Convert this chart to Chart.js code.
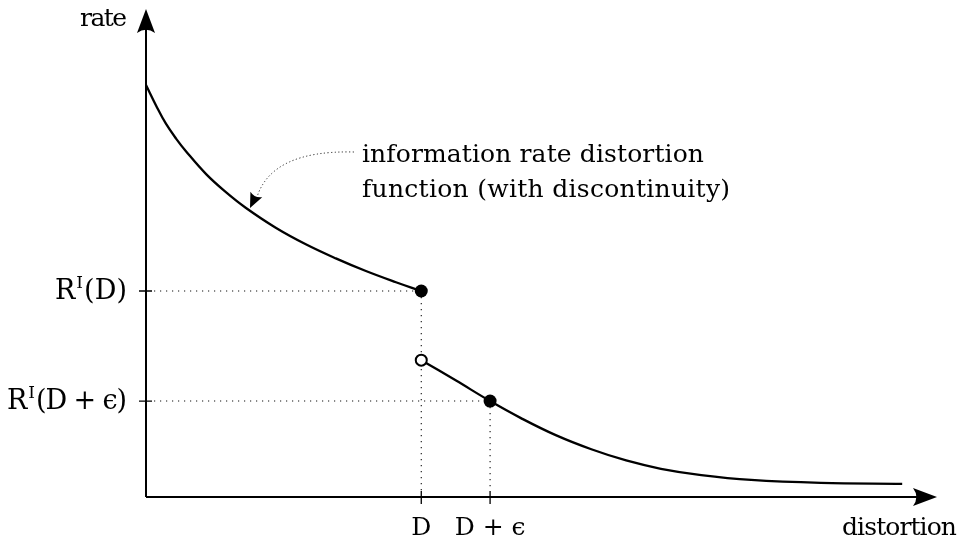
<!DOCTYPE html>
<html>
<head>
<meta charset="utf-8">
<script src="https://cdn.jsdelivr.net/npm/chart.js@4"></script>
<style>
html,body{margin:0;padding:0;background:#fff;}
#wrap{width:966px;height:538px;}
</style>
</head>
<body>
<div id="wrap"><canvas id="c" width="966" height="538"></canvas></div>
<script>
// ---- data ----
const upperX = [0, 0.13, 0.25, 0.38, 0.51, 0.76, 1.01, 1.26, 1.64, 2.02, 2.40, 2.78, 3.16, 3.48];
const upperY = [8.46, 8.03, 7.67, 7.36, 7.09, 6.63, 6.26, 5.94, 5.53, 5.19, 4.90, 4.64, 4.41, 4.23];
const lowerX = [3.48, 3.92, 4.35, 4.74, 5.18, 5.63, 6.07, 6.51, 7.02, 7.65, 8.53, 9.56];
const lowerY = [2.81, 2.39, 1.97, 1.62, 1.27, 0.98, 0.75, 0.58, 0.45, 0.35, 0.29, 0.27];
const filledX = [3.48, 4.35];
const filledY = [4.23, 1.97];
const openX = [3.48];
const openY = [2.81];
const xTickValues = [3.48, 4.35];
const xTickLabels = ['D', 'D + ϵ'];
const yTickValues = [4.23, 1.97];
const yTickLabels = [['R', 'I', '(D)'], ['R', 'I', '(D + ϵ)']];
const xAxisTitle = 'distortion';
const yAxisTitle = 'rate';
const noteLines = ['information rate distortion', 'function (with discontinuity)'];

const pts = (xs, ys) => xs.map((x, i) => ({x: x, y: ys[i]}));
const SERIF = '"DejaVu Serif", "Liberation Serif", serif';

function arrowHead(ctx, tx, ty, angle, len, half) {
  ctx.save();
  ctx.translate(tx, ty);
  ctx.rotate(angle);
  ctx.beginPath();
  ctx.moveTo(0, 0);
  ctx.lineTo(-len, -half);
  ctx.quadraticCurveTo(-len * 0.72, 0, -len, half);
  ctx.closePath();
  ctx.fillStyle = '#000';
  ctx.fill();
  ctx.restore();
}

function fitText(ctx, text, x, y, size, width, align) {
  ctx.save();
  ctx.font = size + 'px ' + SERIF;
  ctx.textAlign = 'left';
  const hasLS = ('letterSpacing' in ctx);
  if (hasLS) ctx.letterSpacing = '0px';
  const w = ctx.measureText(text).width;
  const left = align === 'right' ? x - width : (align === 'center' ? x - width / 2 : x);
  if (hasLS && text.length > 1) {
    ctx.letterSpacing = ((width - w) / (text.length - 1)).toFixed(2) + 'px';
  } else {
    ctx.font = (size * width / w).toFixed(1) + 'px ' + SERIF;
  }
  ctx.fillText(text, left, y);
  ctx.restore();
}

const deco = {
  id: 'deco',
  beforeDatasetsDraw(chart) {
    const ctx = chart.ctx;
    const xs = chart.scales.x, ys = chart.scales.y;
    const x0 = xs.getPixelForValue(0), y0 = ys.getPixelForValue(0);
    const ca = chart.chartArea;
    ctx.save();
    ctx.strokeStyle = '#111';
    ctx.lineWidth = 1.1;
    ctx.setLineDash([1.2, 4.8]);
    for (let i = 0; i < filledX.length; i++) {
      const px = xs.getPixelForValue(filledX[i]);
      const py = ys.getPixelForValue(filledY[i]);
      ctx.beginPath();
      ctx.moveTo(x0 + 8, py); ctx.lineTo(px, py);
      ctx.moveTo(px, py); ctx.lineTo(px, y0 - 6);
      ctx.stroke();
    }
    ctx.setLineDash([]);
    ctx.strokeStyle = '#000';
    ctx.lineWidth = 2;
    ctx.beginPath();
    ctx.moveTo(x0, y0); ctx.lineTo(x0, ca.top + 14);
    ctx.moveTo(x0, y0); ctx.lineTo(ca.right - 14, y0);
    ctx.stroke();
    arrowHead(ctx, x0, ca.top - 1, -Math.PI / 2, 24, 9);
    arrowHead(ctx, ca.right, y0, 0, 24, 9);
    ctx.lineWidth = 1.3;
    ctx.beginPath();
    yTickValues.forEach(v => { const py = ys.getPixelForValue(v); ctx.moveTo(x0 - 7, py); ctx.lineTo(x0 + 6, py); });
    xTickValues.forEach(v => { const px = xs.getPixelForValue(v); ctx.moveTo(px, y0 - 6); ctx.lineTo(px, y0 + 7); });
    ctx.stroke();
    ctx.restore();
  },
  afterDraw(chart) {
    const ctx = chart.ctx;
    const xs = chart.scales.x, ys = chart.scales.y;
    const x0 = xs.getPixelForValue(0), y0 = ys.getPixelForValue(0);
    const ca = chart.chartArea;
    ctx.save();
    ctx.fillStyle = '#000';
    ctx.textBaseline = 'alphabetic';
    fitText(ctx, yAxisTitle, x0 - 19, ca.top + 16, 25, 47, 'right');
    fitText(ctx, xAxisTitle, ca.right + 20, y0 + 38, 25, 115, 'right');
    ctx.font = '25px ' + SERIF;
    ctx.textAlign = 'center';
    xTickValues.forEach((v, i) => ctx.fillText(xTickLabels[i], xs.getPixelForValue(v), y0 + 38));
    const yLabelWidths = [72, 120];
    yTickValues.forEach((v, i) => {
      const py = ys.getPixelForValue(v) + 8;
      const parts = yTickLabels[i];
      const big = 27, small = 17;
      ctx.textAlign = 'left';
      ctx.font = big + 'px ' + SERIF;
      const wR = ctx.measureText(parts[0]).width;
      ctx.font = small + 'px ' + SERIF;
      const wI = ctx.measureText(parts[1]).width;
      const right = x0 - 19;
      const left = right - yLabelWidths[i];
      ctx.font = big + 'px ' + SERIF;
      ctx.fillText(parts[0], left, py);
      ctx.font = small + 'px ' + SERIF;
      ctx.fillText(parts[1], left + wR + 1, py - 11);
      const pl = left + wR + wI + 2;
      fitText(ctx, parts[2], pl, py, big, right - pl, 'left');
    });
    fitText(ctx, noteLines[0], 362, 162, 25, 342, 'left');
    fitText(ctx, noteLines[1], 362, 197, 25, 368, 'left');
    ctx.strokeStyle = '#222';
    ctx.lineWidth = 1;
    ctx.setLineDash([1.2, 2.4]);
    ctx.beginPath();
    ctx.moveTo(354, 152);
    ctx.quadraticCurveTo(272, 150, 257, 197);
    ctx.stroke();
    ctx.setLineDash([]);
    const ang = Math.atan2(208 - 165, 250 - 270);
    arrowHead(ctx, 250, 208, ang, 15, 6.5);
    ctx.restore();
  }
};

new Chart(document.getElementById('c'), {
  type: 'scatter',
  data: {
    datasets: [
      {data: pts(filledX, filledY), pointRadius: 6.5, pointBackgroundColor: '#000', pointBorderColor: '#000', pointBorderWidth: 0, order: 0, clip: false},
      {data: pts(openX, openY), pointRadius: 5.5, pointBackgroundColor: '#fff', pointBorderColor: '#000', pointBorderWidth: 2, order: 0, clip: false},
      {data: pts(upperX, upperY), showLine: true, borderColor: '#000', borderWidth: 2.3, pointRadius: 0, tension: 0.4, order: 1, clip: false},
      {data: pts(lowerX, lowerY), showLine: true, borderColor: '#000', borderWidth: 2.3, pointRadius: 0, tension: 0.4, order: 1, clip: false}
    ]
  },
  options: {
    responsive: false,
    animation: false,
    layout: {padding: {left: 146, right: 29, top: 10, bottom: 41}},
    scales: {
      x: {type: 'linear', min: 0, max: 10, display: false},
      y: {type: 'linear', min: 0, max: 10, display: false}
    },
    plugins: {legend: {display: false}, tooltip: {enabled: false}}
  },
  plugins: [deco]
});
</script>
</body>
</html>
